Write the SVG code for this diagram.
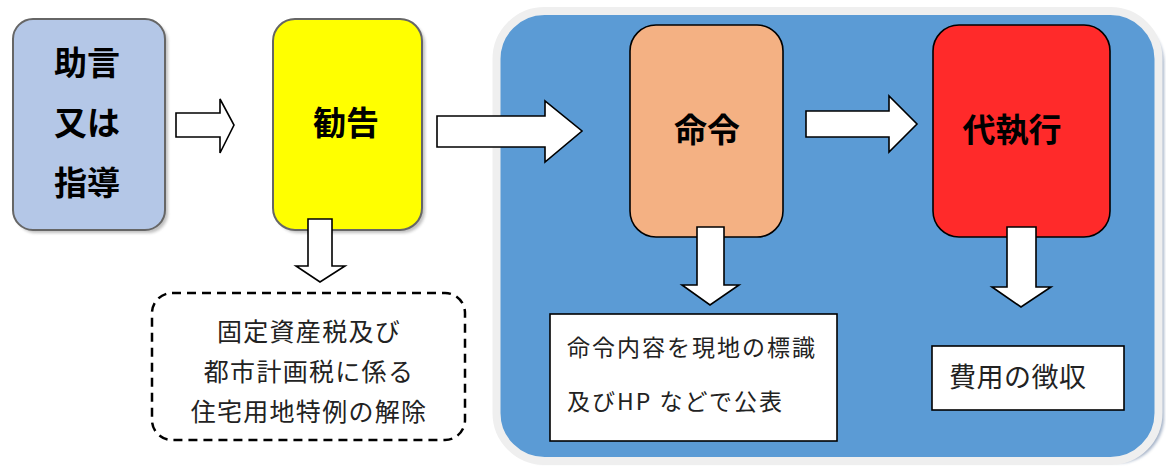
<svg xmlns="http://www.w3.org/2000/svg" width="1166" height="466" viewBox="0 0 1166 466">
  <style>
    .t { font-family: "Noto Sans CJK JP", "Noto Sans", sans-serif; fill: #000; }
    .big { font-size: 33px; font-weight: bold; text-anchor: middle; }
    .note { font-size: 25px; fill: #222; text-anchor: middle; letter-spacing: 1.3px; }
    .pub { font-size: 23px; fill: #222; letter-spacing: 2px; }
    .fee { font-size: 27px; fill: #222; letter-spacing: 0.5px; }
    .arrow { fill: #fff; stroke: #000; stroke-width: 1.6; stroke-linejoin: miter; }
    .shadow { fill: #8c8c8c; opacity: 0.55; }
  </style>
  <defs>
    <filter id="blur" x="-10%" y="-10%" width="120%" height="120%">
      <feGaussianBlur stdDeviation="1.5"/>
    </filter>
  </defs>
  <rect width="1166" height="466" fill="#fff"/>

  <g id="panel">
    <rect x="500" y="17" width="664" height="446" rx="46" fill="#7f93b0" opacity="0.7" filter="url(#blur)"/>
    <rect x="496.5" y="11" width="662" height="450" rx="48" fill="#5b9bd5" stroke="#efefef" stroke-width="8"/>
  </g>

  <g id="node-jogen">
    <rect x="16" y="22" width="152" height="211" rx="20" class="shadow" filter="url(#blur)"/>
    <rect x="13" y="19" width="152" height="211" rx="20" fill="#b4c7e7" stroke="#666" stroke-width="2"/>
    <text class="t big" x="87" y="75">助言</text>
    <text class="t big" x="87" y="135">又は</text>
    <text class="t big" x="87" y="195">指導</text>
  </g>

  <g id="node-kankoku">
    <rect x="276" y="22" width="149" height="211" rx="22" class="shadow" filter="url(#blur)"/>
    <rect x="273" y="19" width="149" height="211" rx="22" fill="#ffff00" stroke="#666" stroke-width="2"/>
    <text class="t big" x="346" y="135">勧告</text>
  </g>

  <g id="node-meirei">
    <rect x="630" y="25" width="153" height="212" rx="26" fill="#f4b183" stroke="#000" stroke-width="1.6"/>
    <text class="t big" x="707" y="142">命令</text>
  </g>

  <g id="node-daishikko">
    <rect x="933" y="25" width="177" height="212" rx="26" fill="#ff2a2a" stroke="#000" stroke-width="1.6"/>
    <text class="t big" x="1012" y="142">代執行</text>
  </g>

  <g id="node-tokurei">
    <rect x="152" y="293" width="313" height="147" rx="20" fill="none" stroke="#000" stroke-width="2.5" stroke-dasharray="9 6"/>
    <text class="t note" x="309" y="341">固定資産税及び</text>
    <text class="t note" x="309" y="381">都市計画税に係る</text>
    <text class="t note" x="309" y="421">住宅用地特例の解除</text>
  </g>

  <g id="node-kohyo">
    <rect x="550" y="314" width="287" height="127" fill="#fff" stroke="#000" stroke-width="1.6"/>
    <text class="t pub" x="567" y="356">命令内容を現地の標識</text>
    <text class="t pub" x="567" y="410">及びHP などで公表</text>
  </g>

  <g id="node-choshu">
    <rect x="932" y="346" width="192" height="64" fill="#fff" stroke="#000" stroke-width="1.6"/>
    <text class="t fee" x="949" y="387">費用の徴収</text>
  </g>

  <g id="connectors">
    <polygon class="arrow" points="176,113 220,113 220,99 234,125 220,153 220,137 176,137"/>
    <polygon class="arrow" points="437,116 545,116 545,101 582,131 545,162 545,147 437,147"/>
    <polygon class="arrow" points="806,111 889,111 889,96 917,124 889,152 889,137 806,137"/>
    <polygon class="arrow" points="308,219 332,219 332,266 345,266 320,282 296,266 308,266"/>
    <polygon class="arrow" points="697,227 724,227 724,285 739,285 710,305 682,285 697,285"/>
    <polygon class="arrow" points="1007,227 1036,227 1036,287 1051,287 1021,307 992,287 1007,287"/>
  </g>
</svg>
